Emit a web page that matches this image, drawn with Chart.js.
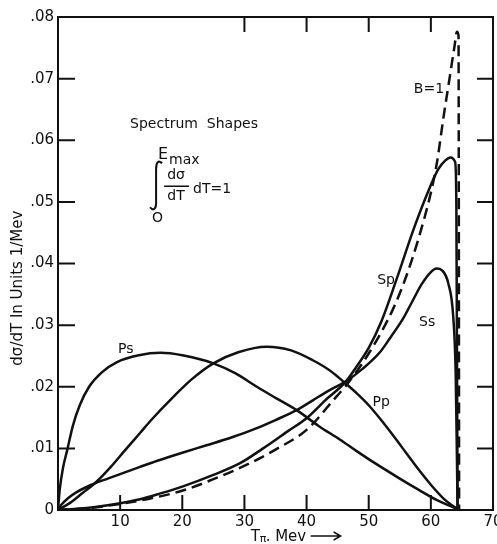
<!DOCTYPE html>
<html>
<head>
<meta charset="utf-8">
<script src="https://cdn.jsdelivr.net/npm/chart.js@4"></script>
<style>
  html, body { margin: 0; padding: 0; background: #fff; overflow: hidden; }
  canvas { display: block; }
</style>
</head>
<body>
<canvas id="spectre" width="497" height="544"></canvas>
<script>
// axes
const xTickLabels = ['', '10', '20', '30', '40', '50', '60', '70'];
const yTickLabels = ['0', '.01', '.02', '.03', '.04', '.05', '.06', '.07', '.08'];

// Ps
const psT = [0, 0.3, 0.8, 1.5, 2.4, 3.5, 5, 7, 9.5, 13, 16.5, 20, 25, 28.5, 32, 35, 38.4, 42, 45.4, 48, 51, 55, 58, 61, 63, 64.6];
const psV = [0, 0.0035, 0.0068, 0.0098, 0.0137, 0.0170, 0.0200, 0.0223, 0.0240, 0.0251, 0.0255, 0.0251, 0.0238, 0.0222, 0.0200, 0.0182, 0.0162, 0.0136, 0.0114, 0.0096, 0.0076, 0.0051, 0.0033, 0.0016, 0.0007, 0];

// Pp
const ppT = [0, 2, 4, 6.1, 8.5, 10.7, 13.2, 15, 18.6, 21.5, 25, 29, 33.6, 37.5, 41, 43.8, 46.2, 48, 50, 52, 54, 56, 58, 60, 62, 63.5, 64.6];
const ppV = [0, 0.0012, 0.0028, 0.0045, 0.0070, 0.0096, 0.0125, 0.0146, 0.0184, 0.0212, 0.0238, 0.0256, 0.0265, 0.0259, 0.0243, 0.0226, 0.0206, 0.0190, 0.0170, 0.0146, 0.0120, 0.0093, 0.0066, 0.0041, 0.0019, 0.0007, 0];

// Ss
const ssT = [0, 0.5, 1.6, 3, 5.4, 8, 13.2, 16, 20, 23.9, 28, 32, 35, 38.4, 41, 43.8, 46.2, 49, 51.8, 53.5, 55.5, 57.2, 58.5, 60, 60.9, 61.8, 62.8, 63.6, 64.0, 64.2, 64.3];
const ssV = [0, 0.0008, 0.0019, 0.0029, 0.0041, 0.0051, 0.0070, 0.0080, 0.0093, 0.0105, 0.0118, 0.0133, 0.0146, 0.0162, 0.0178, 0.0195, 0.0208, 0.0229, 0.0256, 0.0280, 0.0310, 0.0342, 0.0366, 0.0386, 0.0392, 0.0389, 0.0368, 0.0314, 0.0220, 0.0080, 0];

// Sp
const spT = [0, 3, 6, 10, 13, 16.5, 20, 25, 29.3, 33, 37, 40, 43, 46.2, 48, 50, 52, 54.5, 57.2, 59.9, 61.2, 62.3, 63.2, 63.9, 64.1, 64.3];
const spV = [0, 0.0002, 0.0005, 0.0011, 0.0017, 0.0027, 0.0038, 0.0057, 0.0076, 0.0100, 0.0128, 0.0149, 0.0178, 0.0207, 0.0232, 0.0263, 0.0305, 0.0375, 0.0455, 0.0525, 0.0553, 0.0567, 0.0572, 0.0565, 0.0500, 0];

// B=1 (tirets)
const bT = [0, 5, 10, 15, 20.2, 25, 30.9, 35, 40, 44.8, 46.2, 48, 50, 52, 54, 56, 58, 60, 61, 62, 63, 63.8, 64.2, 64.45, 64.55];
const bV = [0, 0.0003, 0.0010, 0.0019, 0.0032, 0.0050, 0.0076, 0.0098, 0.0130, 0.0184, 0.0200, 0.0224, 0.0254, 0.0288, 0.0328, 0.0378, 0.0440, 0.0515, 0.0565, 0.0635, 0.0700, 0.0752, 0.0776, 0.0770, 0];

const pts = (t, v) => t.map((x, i) => ({ x: x, y: v[i] }));

function courbe(t, v, dash) {
  return {
    data: pts(t, v),
    showLine: true,
    borderColor: '#111',
    borderWidth: 2.5,
    borderDash: dash || [],
    pointRadius: 0,
    cubicInterpolationMode: 'monotone',
    fill: false
  };
}

// textes dans le graphique (T, valeur)
const curveLabels = [
  { txt: 'Ps', t: 10.9, v: 0.0261 },
  { txt: 'Pp', t: 52.0, v: 0.0174 },
  { txt: 'Sp', t: 52.8, v: 0.0373 },
  { txt: 'Ss', t: 59.4, v: 0.0305 },
  { txt: 'B=1', t: 59.7, v: 0.0682 }
];

const FONT = '"DejaVu Sans", sans-serif';

const cadre = {
  id: 'cadre',
  afterDraw(chart) {
    const { ctx, chartArea: a, scales: { x, y } } = chart;
    ctx.save();
    ctx.strokeStyle = '#111';
    ctx.lineWidth = 2;
    ctx.strokeRect(a.left, a.top, a.width, a.height);

    // petits traits vers l'interieur
    ctx.beginPath();
    for (let v = 10; v < 70; v += 10) {
      const px = x.getPixelForValue(v);
      ctx.moveTo(px, a.bottom); ctx.lineTo(px, a.bottom - 15);
      if (v >= 30) { ctx.moveTo(px, a.top); ctx.lineTo(px, a.top + 15); }
    }
    for (let i = 1; i < 8; i++) {
      const py = y.getPixelForValue(i / 100);
      ctx.moveTo(a.left, py); ctx.lineTo(a.left + 17, py);
      ctx.moveTo(a.right, py); ctx.lineTo(a.right - 16, py);
    }
    ctx.stroke();

    ctx.fillStyle = '#111';
    ctx.textAlign = 'center';
    ctx.textBaseline = 'middle';
    ctx.font = '14px ' + FONT;
    curveLabels.forEach(l => ctx.fillText(l.txt, x.getPixelForValue(l.t), y.getPixelForValue(l.v)));

    // Spectrum Shapes + integrale
    ctx.textAlign = 'left';
    const sx = x.getPixelForValue(11.6), sy = y.getPixelForValue(0.0626);
    ctx.fillText('Spectrum  Shapes', sx, sy);
    const ix = sx + 20, iy = sy + 60;   // ancre de l'integrale
    ctx.font = '16px ' + FONT;
    ctx.fillText('E', ix + 8, sy + 31);
    ctx.font = '14px ' + FONT;
    ctx.fillText('max', ix + 19, sy + 36);
    ctx.textAlign = 'center';
    ctx.fillText('dσ', ix + 26, iy - 9);
    ctx.fillText('dT', ix + 26, iy + 12);
    ctx.beginPath();
    ctx.lineWidth = 1.5;
    ctx.moveTo(ix + 14, iy + 2); ctx.lineTo(ix + 39, iy + 2);
    ctx.stroke();
    ctx.textAlign = 'left';
    ctx.fillText('dT=1', ix + 43, iy + 5);
    ctx.fillText('O', ix + 2, iy + 34);
    // signe integrale
    ctx.beginPath();
    ctx.lineWidth = 2;
    ctx.moveTo(ix + 12, iy - 21);
    ctx.bezierCurveTo(ix + 8, iy - 25, ix + 6, iy - 21, ix + 6, iy - 15);
    ctx.lineTo(ix + 6, iy + 19);
    ctx.bezierCurveTo(ix + 6, iy + 25, ix + 3, iy + 27, ix + 0, iy + 23);
    ctx.stroke();

    // titre axe x
    ctx.font = '15px ' + FONT;
    ctx.textBaseline = 'alphabetic';
    const tx = x.getPixelForValue(31.0), ty = 541;
    ctx.fillText('T', tx, ty);
    ctx.font = '11px ' + FONT;
    ctx.fillText('π', tx + 9, ty + 1);
    ctx.font = '15px ' + FONT;
    ctx.fillText('. Mev', tx + 15, ty);
    ctx.beginPath();
    ctx.lineWidth = 1.5;
    ctx.moveTo(tx + 60, ty - 5); ctx.lineTo(tx + 89, ty - 5);
    ctx.moveTo(tx + 83, ty - 9); ctx.lineTo(tx + 90, ty - 5); ctx.lineTo(tx + 83, ty - 1);
    ctx.stroke();

    // titre axe y
    ctx.save();
    ctx.translate(18, y.getPixelForValue(0.0360));
    ctx.rotate(-Math.PI / 2);
    ctx.textAlign = 'center';
    ctx.textBaseline = 'middle';
    ctx.font = '15px ' + FONT;
    ctx.fillText('dσ/dT In Units 1/Mev', 0, 0);
    ctx.restore();
    ctx.restore();
  }
};

Chart.defaults.color = '#111';
Chart.defaults.font.family = FONT;
Chart.defaults.font.size = 15;

const ctx = document.getElementById('spectre').getContext('2d');
new Chart(ctx, {
  type: 'scatter',
  data: {
    datasets: [
      courbe(psT, psV),
      courbe(ppT, ppV),
      courbe(ssT, ssV),
      courbe(spT, spV),
      courbe(bT, bV, [11, 6])
    ]
  },
  options: {
    responsive: false,
    animation: false,
    layout: { padding: { left: 0, right: 4, top: 17, bottom: 0 } },
    plugins: { legend: { display: false }, tooltip: { enabled: false } },
    scales: {
      x: {
        type: 'linear', min: 0, max: 70,
        grid: { display: false, drawTicks: false },
        border: { display: false },
        ticks: {
          stepSize: 10, padding: 3, maxRotation: 0, autoSkip: false,
          callback: v => xTickLabels[Math.round(v / 10)]
        },
        afterFit(s) { s.height = 34; s.paddingLeft = 0; s.paddingRight = 0; }
      },
      y: {
        min: 0, max: 0.08,
        grid: { display: false, drawTicks: false },
        border: { display: false },
        ticks: {
          stepSize: 0.01, padding: 4, autoSkip: false,
          callback: v => yTickLabels[Math.round(v * 100)]
        },
        afterFit(s) { s.width = 58; s.paddingTop = 0; s.paddingBottom = 0; }
      }
    }
  },
  plugins: [cadre]
});
</script>
</body>
</html>
